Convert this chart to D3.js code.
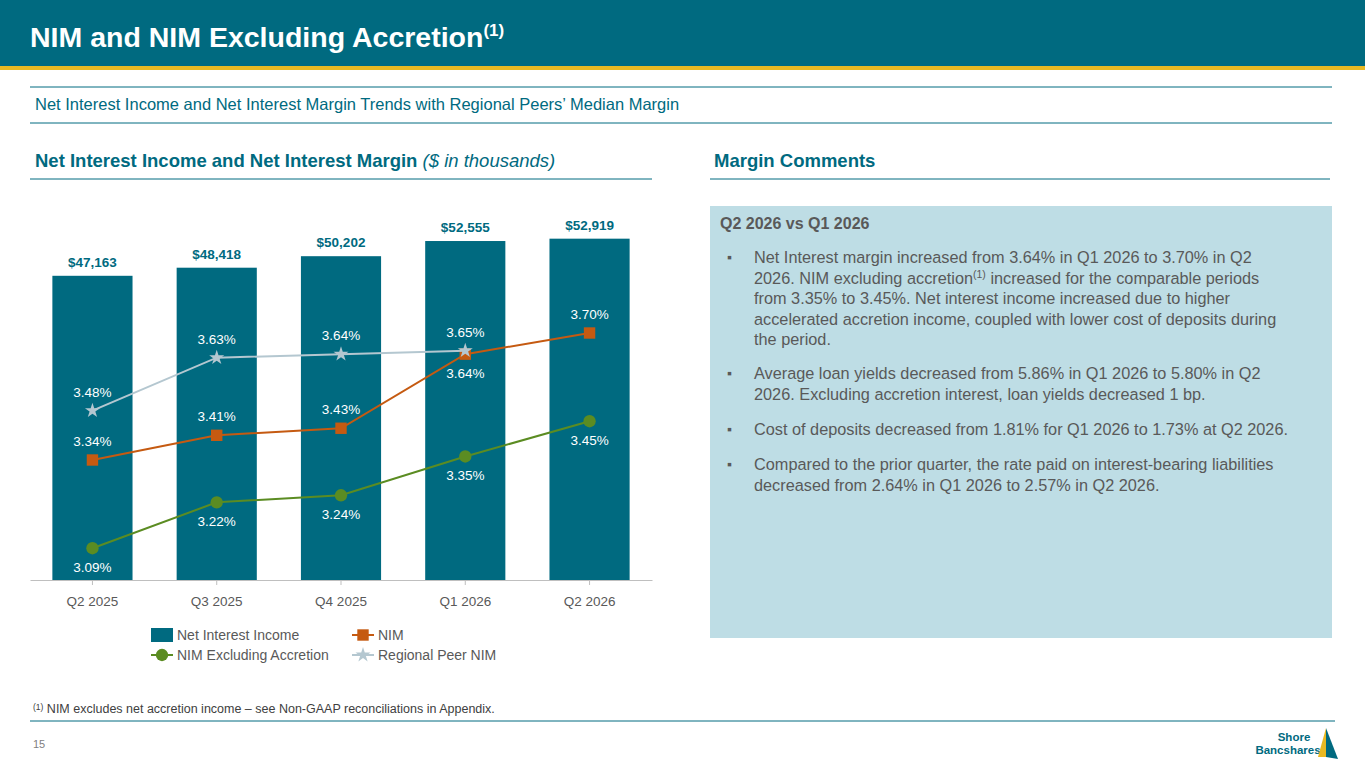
<!DOCTYPE html>
<html lang="en">
<head>
<meta charset="UTF-8">
<title>NIM and NIM Excluding Accretion</title>
<style>
    body { margin: 0; font-family: Arial, "Liberation Sans", sans-serif; background: #fff; }
    svg { display: block; }
</style>
</head>
<body>
<div id="slide"></div>
<script src="https://d3js.org/d3.v7.min.js"></script>
<script>
    const teal = "#006a80";
    const quarters = ["Q2 2025", "Q3 2025", "Q4 2025", "Q1 2026", "Q2 2026"];

    // Net interest income ($ thousands) and margins (%)
    const income = [47163, 48418, 50202, 52555, 52919];
    const series = [
        { name: "NIM", color: "#c55a11", shape: "square",
          values: [3.34, 3.41, 3.43, 3.64, 3.70], pos: ["up", "up", "up", "down", "up"] },
        { name: "NIM Excluding Accretion", color: "#5b8c22", shape: "circle",
          values: [3.09, 3.22, 3.24, 3.35, 3.45], pos: ["down", "down", "down", "down", "down"] },
        { name: "Regional Peer NIM", color: "#b4c7d0", shape: "star",
          values: [3.48, 3.63, 3.64, 3.65, null], pos: ["up", "up", "up", "up", "up"] }
    ];

    const W = 1365, H = 768;
    const svg = d3.select("#slide").append("svg").attr("width", W).attr("height", H);

    // Header
    svg.append("rect").attr("width", W).attr("height", 66).attr("fill", teal);
    svg.append("rect").attr("y", 66).attr("width", W).attr("height", 4).attr("fill", "#e8b923");
    const title = svg.append("text").attr("x", 30).attr("y", 47).attr("fill", "#fff")
        .attr("font-size", 28.5).attr("font-weight", "bold");
    title.append("tspan").text("NIM and NIM Excluding Accretion");
    title.append("tspan").attr("font-size", 17).attr("dy", -11).text("(1)");

    svg.append("line").attr("x1", 30).attr("x2", 1332).attr("y1", 87).attr("y2", 87).attr("stroke", teal);
    svg.append("line").attr("x1", 30).attr("x2", 1332).attr("y1", 123).attr("y2", 123).attr("stroke", teal);
    svg.append("text").attr("x", 35).attr("y", 110).attr("fill", teal).attr("font-size", 16.5)
        .text("Net Interest Income and Net Interest Margin Trends with Regional Peers\u2019 Median Margin");

    // Section headings
    const h1 = svg.append("text").attr("x", 35).attr("y", 167).attr("fill", teal).attr("font-size", 18.5).attr("font-weight", "bold");
    h1.append("tspan").text("Net Interest Income and Net Interest Margin ");
    h1.append("tspan").attr("font-style", "italic").attr("font-weight", "normal").text("($ in thousands)");
    svg.append("line").attr("x1", 30).attr("x2", 652).attr("y1", 179).attr("y2", 179).attr("stroke", teal);
    svg.append("text").attr("x", 714).attr("y", 167).attr("fill", teal).attr("font-size", 18.5).attr("font-weight", "bold")
        .text("Margin Comments");
    svg.append("line").attr("x1", 710).attr("x2", 1330).attr("y1", 179).attr("y2", 179).attr("stroke", teal);

    // Chart scales
    const x = d3.scaleBand().domain(quarters).range([30, 652]).paddingInner(0.355).paddingOuter(0.18);
    const yBar = d3.scaleLinear().domain([0, 60000]).range([580, 193]);
    const yPct = d3.scaleLinear().domain([3.34 - 120 / 352.8, 3.70]).range([580, 333]);
    const cx = q => x(q) + x.bandwidth() / 2;

    svg.selectAll(".bar").data(income).enter().append("rect")
        .attr("x", (d, i) => x(quarters[i])).attr("width", x.bandwidth())
        .attr("y", d => yBar(d)).attr("height", d => 580 - yBar(d)).attr("fill", teal);
    svg.selectAll(".barlbl").data(income).enter().append("text")
        .attr("x", (d, i) => cx(quarters[i])).attr("y", d => yBar(d) - 9)
        .attr("text-anchor", "middle").attr("font-size", 13.5).attr("font-weight", "bold").attr("fill", teal)
        .text(d => "$" + d3.format(",")(d));

    svg.append("g").attr("transform", "translate(0,580)")
        .call(d3.axisBottom(x).tickSize(5).tickSizeOuter(0))
        .call(g => g.select(".domain").attr("stroke", "#bfbfbf"))
        .call(g => g.selectAll(".tick line").attr("stroke", "#bfbfbf"))
        .call(g => g.selectAll("text").attr("font-size", 13.5).attr("fill", "#595959").attr("dy", "1.3em").attr("font-family", "Arial"));

    const star = d3.symbol().type(d3.symbolStar).size(70);
    const square = d3.symbol().type(d3.symbolSquare).size(130);
    const circle = d3.symbol().type(d3.symbolCircle).size(120);
    const shapes = { star, square, circle };

    series.forEach(s => {
        const pts = s.values.map((v, i) => ({ v, q: quarters[i], pos: s.pos[i] })).filter(p => p.v !== null);
        svg.append("path").datum(pts)
            .attr("d", d3.line().x(p => cx(p.q)).y(p => yPct(p.v)))
            .attr("fill", "none").attr("stroke", s.color).attr("stroke-width", 2);
        svg.selectAll(null).data(pts).enter().append("path")
            .attr("d", shapes[s.shape]).attr("fill", s.color)
            .attr("transform", p => `translate(${cx(p.q)},${yPct(p.v)})`);
        svg.selectAll(null).data(pts).enter().append("text")
            .attr("x", p => cx(p.q)).attr("y", p => yPct(p.v) + (p.pos === "up" ? -14 : 24))
            .attr("text-anchor", "middle").attr("font-size", 13.5).attr("fill", "#fff")
            .text(p => p.v.toFixed(2) + "%");
    });

    // Legend
    const legend = [
        { name: "Net Interest Income", type: "bar", x: 151, y: 635 },
        { name: "NIM", type: "square", color: "#c55a11", x: 352, y: 635 },
        { name: "NIM Excluding Accretion", type: "circle", color: "#5b8c22", x: 151, y: 655 },
        { name: "Regional Peer NIM", type: "star", color: "#b4c7d0", x: 352, y: 655 }
    ];
    legend.forEach(l => {
        const g = svg.append("g").attr("transform", `translate(${l.x},${l.y})`);
        if (l.type === "bar") {
            g.append("rect").attr("y", -7).attr("width", 22).attr("height", 14).attr("fill", teal);
        } else {
            g.append("line").attr("x2", 22).attr("stroke", l.color).attr("stroke-width", 2);
            g.append("path").attr("d", shapes[l.type]).attr("fill", l.color).attr("transform", "translate(11,0)");
        }
        g.append("text").attr("x", 26).attr("y", 5).attr("font-size", 14).attr("fill", "#595959").text(l.name);
    });

    // Comments panel
    svg.append("rect").attr("x", 710).attr("y", 206).attr("width", 622).attr("height", 432).attr("fill", "#bedde5");
    svg.append("text").attr("x", 720).attr("y", 229).attr("font-size", 16).attr("font-weight", "bold").attr("fill", "#595959")
        .text("Q2 2026 vs Q1 2026");
    const bullets = [
        { y: 263, lines: [["Net Interest margin increased from 3.64% in Q1 2026 to 3.70% in Q2"],
            ["2026. NIM excluding accretion", "(1)", " increased for the comparable periods"],
            ["from 3.35% to 3.45%. Net interest income increased due to higher"],
            ["accelerated accretion income, coupled with lower cost of deposits during"],
            ["the period."]] },
        { y: 379, lines: [["Average loan yields decreased from 5.86% in Q1 2026 to 5.80% in Q2"],
            ["2026. Excluding accretion interest, loan yields decreased 1 bp."]] },
        { y: 435, lines: [["Cost of deposits decreased from 1.81% for Q1 2026 to 1.73% at Q2 2026."]] },
        { y: 470, lines: [["Compared to the prior quarter, the rate paid on interest-bearing liabilities"],
            ["decreased from 2.64% in Q1 2026 to 2.57% in Q2 2026."]] }
    ];
    bullets.forEach(b => {
        svg.append("text").attr("x", 727).attr("y", b.y - 1).attr("font-size", 14).attr("fill", "#595959").text("\u25aa");
        b.lines.forEach((ln, i) => {
            const t = svg.append("text").attr("x", 754).attr("y", b.y + i * 20.5).attr("font-size", 16.3).attr("fill", "#595959");
            ln.forEach((part, j) => {
                const sp = t.append("tspan").text(part);
                if (part === "(1)") sp.attr("font-size", 10.5).attr("dy", -6);
                else if (j > 0 && ln[j - 1] === "(1)") sp.attr("dy", 6);
            });
        });
    });

    // Footer
    const fn = svg.append("text").attr("x", 33).attr("y", 713).attr("font-size", 12.5).attr("fill", "#404040");
    fn.append("tspan").attr("font-size", 8.5).attr("dy", -3).text("(1)");
    fn.append("tspan").attr("dy", 3).text(" NIM excludes net accretion income \u2013 see Non-GAAP reconciliations in Appendix.");
    svg.append("line").attr("x1", 30).attr("x2", 1335).attr("y1", 721).attr("y2", 721).attr("stroke", teal);
    svg.append("text").attr("x", 33).attr("y", 748).attr("font-size", 11).attr("fill", "#7f7f7f").text("15");
    svg.append("text").attr("x", 1294).attr("y", 741).attr("text-anchor", "middle").attr("font-size", 11.5).attr("font-weight", "bold").attr("fill", teal).text("Shore");
    svg.append("text").attr("x", 1288).attr("y", 754).attr("text-anchor", "middle").attr("font-size", 11.5).attr("font-weight", "bold").attr("fill", teal).text("Bancshares");
    svg.append("path").attr("d", "M1326,728 L1326,757 L1318,757 Z").attr("fill", "#e8b923");
    svg.append("path").attr("d", "M1326,728 L1338,759 L1326,757 Z").attr("fill", teal);
</script>
</body>
</html>
